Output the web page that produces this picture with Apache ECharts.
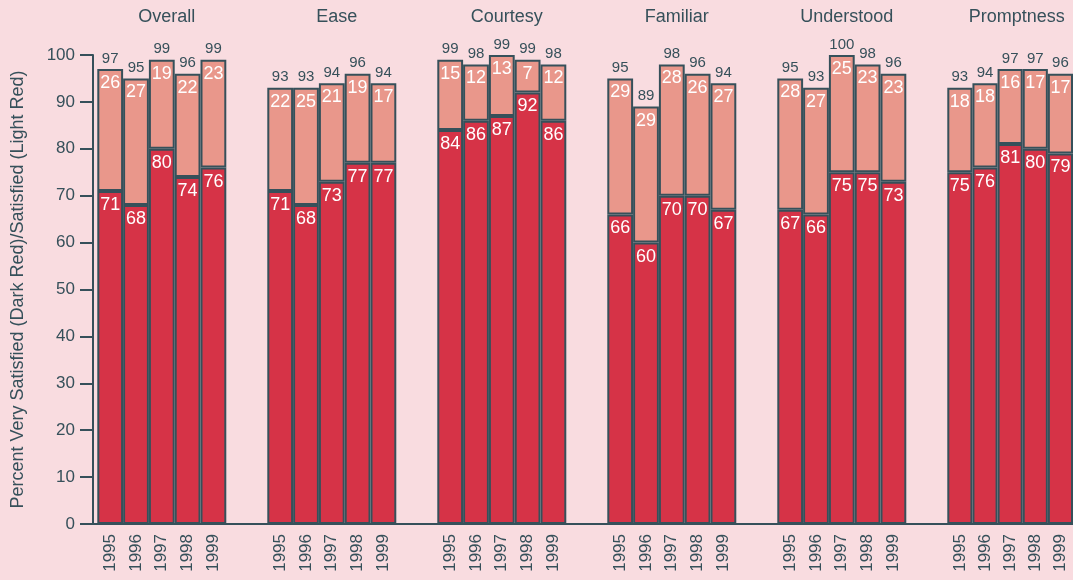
<!DOCTYPE html>
<html>
<head>
<meta charset="utf-8">
<script src="https://cdn.jsdelivr.net/npm/echarts@6/dist/echarts.min.js"></script>
<style>
  html, body { margin: 0; padding: 0; background: #f9dce0; }
  #chart { width: 1073px; height: 580px; }
</style>
</head>
<body>
<div id="chart"></div>
<script>
// Satisfaction survey, 1995-1999, by aspect of service
const groups = ['Overall', 'Ease', 'Courtesy', 'Familiar', 'Understood', 'Promptness'];
const years = ['1995', '1996', '1997', '1998', '1999'];

// percent "very satisfied" (dark red), one row per group
const verySatisfied = [
  [71, 68, 80, 74, 76],
  [71, 68, 73, 77, 77],
  [84, 86, 87, 92, 86],
  [66, 60, 70, 70, 67],
  [67, 66, 75, 75, 73],
  [75, 76, 81, 80, 79]
];
// percent "satisfied" (light red), stacked on top
const satisfied = [
  [26, 27, 19, 22, 23],
  [22, 25, 21, 19, 17],
  [15, 12, 13, 7, 12],
  [29, 29, 28, 26, 27],
  [28, 27, 25, 23, 23],
  [18, 18, 16, 17, 17]
];
// combined percent printed above each bar
const totals = [
  [97, 95, 99, 96, 99],
  [93, 93, 94, 96, 94],
  [99, 98, 99, 99, 98],
  [95, 89, 98, 96, 94],
  [95, 93, 100, 98, 96],
  [93, 94, 97, 97, 96]
];
const yTicks = [0, 10, 20, 30, 40, 50, 60, 70, 80, 90, 100];

const FONT = '"Liberation Sans", Arial, Helvetica, sans-serif';
const INK = '#36505a';
const DARK = '#d63347';
const LIGHT = '#e9978b';

// panel layout
const PLOT_TOP = 55, PLOT_BOTTOM = 56;
const FIRST_LEFT = 97.3, PANEL_W = 129, PANEL_STEP = 170;

const grids = [{ left: 93, right: -20, top: PLOT_TOP, bottom: PLOT_BOTTOM }];
const xAxes = [{
  gridIndex: 0, type: 'value', min: 0, max: 1,
  axisLine: { show: true, onZero: false, lineStyle: { color: INK, width: 2 } },
  axisTick: { show: false }, axisLabel: { show: false }, splitLine: { show: false }
}];
const yAxes = [{
  gridIndex: 0, type: 'value', min: yTicks[0], max: yTicks[yTicks.length - 1], interval: 10,
  name: 'Percent Very Satisfied (Dark Red)/Satisfied (Light Red)',
  nameLocation: 'middle', nameGap: 66, nameRotate: 90,
  nameTextStyle: { fontFamily: FONT, fontSize: 18, color: INK },
  axisLine: { show: true, lineStyle: { color: INK, width: 2 } },
  axisTick: { show: true, inside: false, length: 13, lineStyle: { color: INK, width: 2 } },
  axisLabel: { fontFamily: FONT, fontSize: 17, color: INK, margin: 18 },
  splitLine: { show: false }
}];
const titles = [];
const series = [];

groups.forEach((g, i) => {
  const gi = i + 1;
  const left = FIRST_LEFT + PANEL_STEP * i;
  grids.push({ left: left, width: PANEL_W, top: PLOT_TOP, bottom: PLOT_BOTTOM });
  xAxes.push({
    gridIndex: gi, type: 'category', data: years,
    axisLine: { show: false }, axisTick: { show: false },
    axisLabel: { rotate: 90, margin: 10, fontFamily: FONT, fontSize: 17, color: INK }
  });
  yAxes.push({ gridIndex: gi, type: 'value', min: 0, max: 100, show: false });
  titles.push({
    text: g, left: left + PANEL_W / 2, top: 3, textAlign: 'center',
    textStyle: { fontFamily: FONT, fontSize: 18, fontWeight: 'normal', color: INK }
  });
  const common = {
    type: 'bar', stack: 'g' + i, xAxisIndex: gi, yAxisIndex: gi,
    barWidth: '100%', barGap: 0, barCategoryGap: 0
  };
  series.push(Object.assign({}, common, {
    name: 'Very Satisfied', data: verySatisfied[i],
    itemStyle: { color: DARK, borderColor: INK, borderWidth: 2 },
    label: { show: true, position: 'insideTop', distance: 5, fontFamily: FONT, fontSize: 18, color: '#ffffff' }
  }));
  series.push(Object.assign({}, common, {
    name: 'Satisfied', data: satisfied[i],
    itemStyle: { color: LIGHT, borderColor: INK, borderWidth: 2 },
    label: { show: true, position: 'insideTop', distance: 5, fontFamily: FONT, fontSize: 18, color: '#ffffff' }
  }));
  // zero-height cap carrying the combined percent
  series.push(Object.assign({}, common, {
    name: 'Total', data: totals[i].map(() => 0),
    itemStyle: { color: 'transparent', borderWidth: 0 },
    label: {
      show: true, position: 'top', distance: 3, fontFamily: FONT, fontSize: 15, color: INK,
      formatter: p => String(totals[i][p.dataIndex])
    }
  }));
});

const chart = echarts.init(document.getElementById('chart'));
chart.setOption({
  backgroundColor: '#f9dce0',
  animation: false,
  title: titles,
  grid: grids,
  xAxis: xAxes,
  yAxis: yAxes,
  series: series
});
</script>
</body>
</html>
